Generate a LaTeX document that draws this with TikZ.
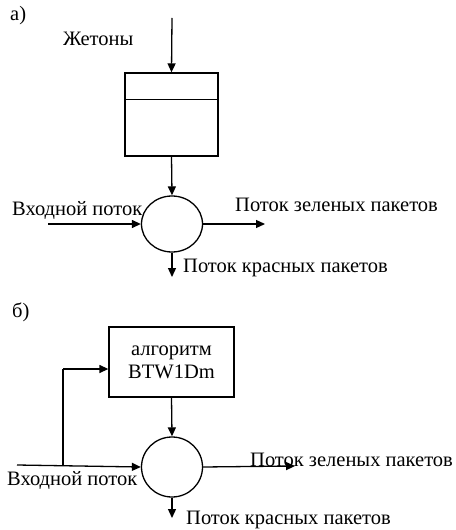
\documentclass[tikz,border=0pt]{standalone}
\usepackage{fontspec}
\setmainfont{Liberation Serif}
\usetikzlibrary{arrows.meta,shapes.geometric}
\begin{document}
\begin{tikzpicture}[x=1bp,y=-1bp,
  every node/.style={font=\fontsize{20.5bp}{23bp}\selectfont},
  lbl/.style={inner sep=0pt, anchor=west},
  arr/.style={line width=1.3bp, -{Triangle[length=9bp,width=8bp]}},
  ln/.style={line width=1.3bp},
  blk/.style={draw, line width=1.3bp, rectangle, inner sep=0pt},
  junc/.style={draw, line width=1.3bp, ellipse, inner sep=0pt, minimum width=61bp}]
\useasboundingbox (0,0) rectangle (456,530);
% ---------- a)
\node[lbl] (la) at (10,16) {а)};
\node[lbl] (tok) at (63,39) {Жетоны};
\node[blk, minimum width=93bp, minimum height=83bp] (boxa) at (171.5,114.5) {};
\draw[ln] ([yshift=-27bp]boxa.north west) -- ([yshift=-27bp]boxa.north east);
\node[junc, minimum height=56bp] (ca) at (172,224) {};
\coordinate (tokin) at (172,18);
\coordinate (ina) at (48,224);
\coordinate (outga) at (265,224);
\coordinate (outra) at (172,277);
\draw[arr] (tokin) -- (boxa.north);
\draw[arr] (boxa.south) -- (ca.north);
\draw[arr] (ina) -- (ca.west);
\draw[arr] (ca.east) -- (outga);
\draw[arr] (ca.south) -- (outra);
\node[lbl] (ina-l) at (12,210) {Входной поток};
\node[lbl] (outga-l) at (235,205) {Поток зеленых пакетов};
\node[lbl] (outra-l) at (183,268) {Поток красных пакетов};
% ---------- b)
\node[lbl] (lb) at (12,312) {б)};
\node[blk, minimum width=125bp, minimum height=70bp, align=center] (boxb) at (171.5,362) {алгоритм\\BTW1Dm};
\node[junc, minimum height=60bp] (cb) at (172,467) {};
\coordinate (inb) at (17,465);
\coordinate (br) at (63,465);
\coordinate (brtop) at (63,369);
\coordinate (outgb) at (295,466);
\coordinate (outrb) at (172,518);
\draw[arr] (boxb.south) -- (cb.north);
\draw[arr] (inb) -- (cb.west);
\draw[ln] (br) -- (brtop);
\draw[arr] (brtop) -- (boxb.west |- brtop);
\draw[arr] (cb.east) -- (outgb);
\draw[arr] (cb.south) -- (outrb);
\node[lbl] (inb-l) at (7,480) {Входной поток};
\node[lbl] (outgb-l) at (250,460) {Поток зеленых пакетов};
\node[lbl] (outrb-l) at (186,520) {Поток красных пакетов};
\end{tikzpicture}
\end{document}
